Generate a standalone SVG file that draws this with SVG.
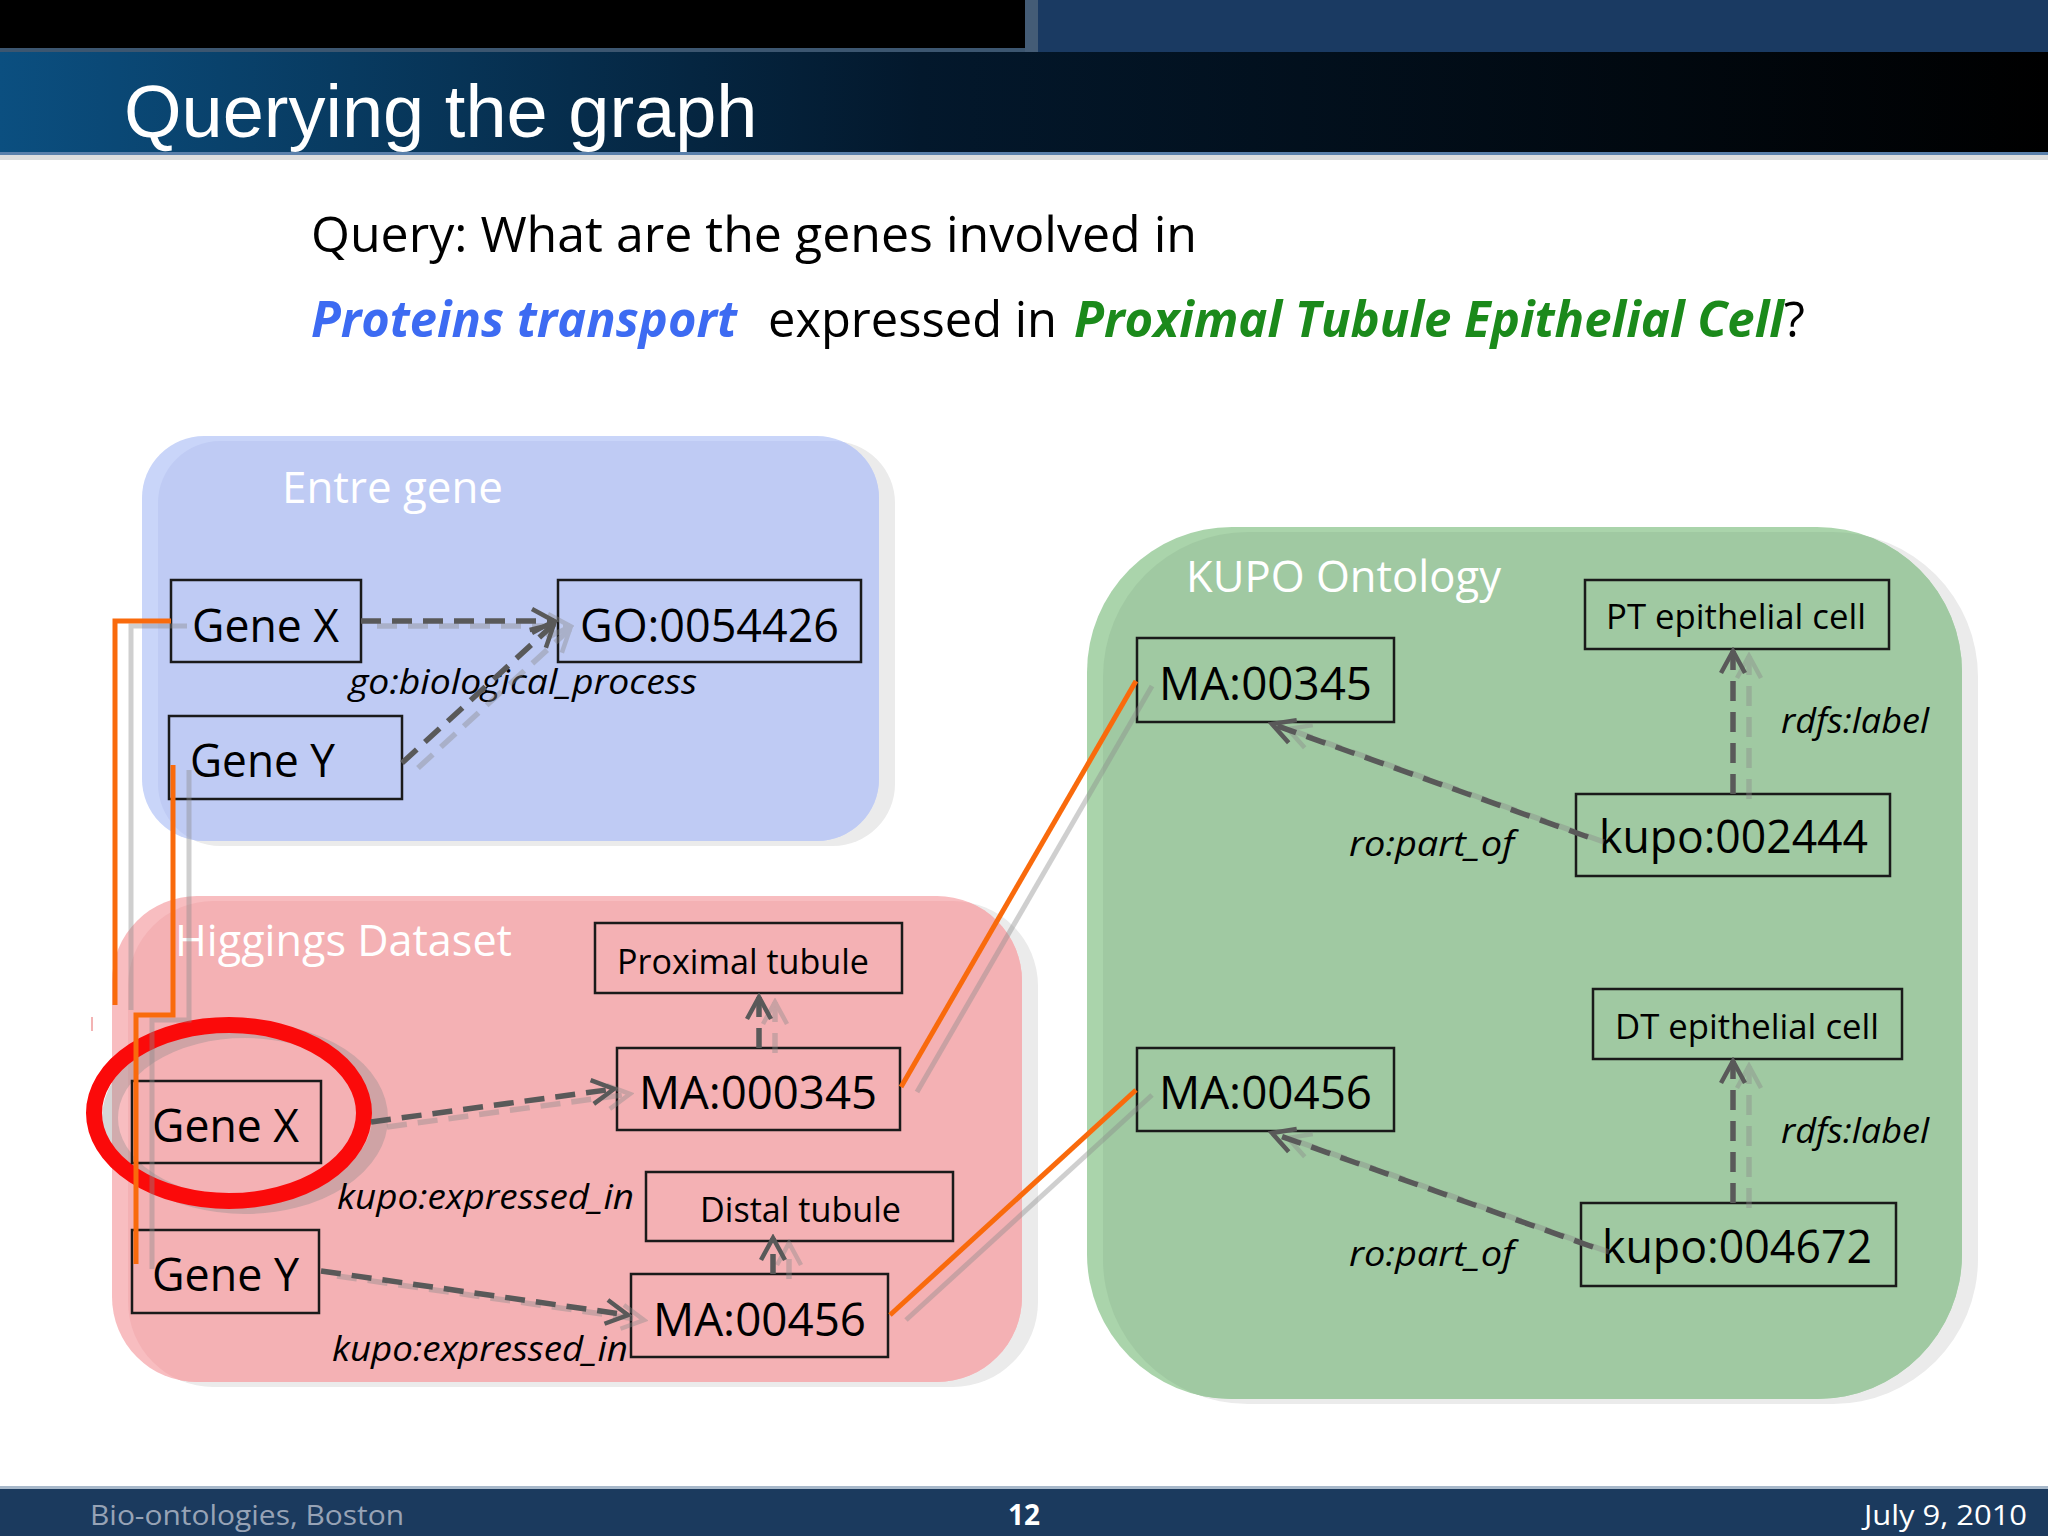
<svg xmlns="http://www.w3.org/2000/svg" width="2048" height="1536" viewBox="0 0 2048 1536">
<defs>
<linearGradient id="titleGrad" x1="0" y1="0" x2="1" y2="0">
<stop offset="0" stop-color="#0b4f80"/>
<stop offset="0.45" stop-color="#03182c"/>
<stop offset="1" stop-color="#000000"/>
</linearGradient>
<marker id="ah" viewBox="-28 -16 32 32" markerWidth="32" markerHeight="32" refX="0" refY="0" orient="auto" markerUnits="userSpaceOnUse">
<path d="M-22,-12 L0,0 L-22,12" fill="none" stroke="#595959" stroke-width="4.5"/>
</marker>
<marker id="ahg" viewBox="-28 -16 32 32" markerWidth="32" markerHeight="32" refX="0" refY="0" orient="auto" markerUnits="userSpaceOnUse">
<path d="M-22,-12 L0,0 L-22,12" fill="none" stroke="#8a8a8a" stroke-width="4.5"/>
</marker>
<clipPath id="clipBlue"><rect x="142" y="436" width="737" height="405" rx="62"/></clipPath>
<clipPath id="clipPink"><rect x="112" y="896" width="910" height="486" rx="85"/></clipPath>
<clipPath id="clipGreen"><rect x="1087" y="527" width="875" height="872" rx="145"/></clipPath>
<style>
.node{fill:none;stroke:#1a1a1a;stroke-width:2.5}
.big{font-family:"Open Sans","Noto Sans",sans-serif;font-size:46px;fill:#000}
.small{font-family:"Open Sans","Noto Sans",sans-serif;font-size:34px;fill:#000}
.lab{font-family:"Open Sans","Noto Sans",sans-serif;font-size:34px;font-style:italic;fill:#000}
.ctitle{font-family:"Open Sans","Noto Sans",sans-serif;font-size:44px;fill:#ffffff}
.dash{fill:none;stroke:#595959;stroke-width:5.5;stroke-dasharray:20 11;marker-end:url(#ah)}
.dashg{fill:none;stroke:#8a8a8a;stroke-width:5.5;stroke-dasharray:20 11;marker-end:url(#ahg)}
.orange{fill:none;stroke:#f96a0c;stroke-width:5}
.og{fill:none;stroke:#8a8a8a;stroke-width:5}
.q{font-family:"Open Sans","Noto Sans",sans-serif;font-size:50px}
.foot{font-family:"Open Sans","Noto Sans",sans-serif;font-size:28px}
</style>
</defs>

<rect x="0" y="0" width="2048" height="1536" fill="#ffffff"/>

<!-- header -->
<g id="header">
<rect x="0" y="0" width="2048" height="52" fill="#1a3a62"/>
<rect x="0" y="0" width="1025" height="48" fill="#000000"/>
<rect x="0" y="48" width="1025" height="4" fill="#3c5670"/>
<rect x="1025" y="0" width="13" height="52" fill="#445c76"/>
<rect x="0" y="52" width="2048" height="100" fill="url(#titleGrad)"/>
<rect x="0" y="152" width="2048" height="3" fill="#5a80ab"/>
<rect x="0" y="155" width="2048" height="5" fill="#dedede"/>
<text x="124" y="137" font-family="'Liberation Sans', Arial, sans-serif" font-size="74" fill="#ffffff">Querying the graph</text>
</g>

<!-- query -->
<g id="query">
<text class="q" x="311" y="252" fill="#000" textLength="886" lengthAdjust="spacingAndGlyphs">Query: What are the genes involved in</text>
<text class="q" x="311" y="337" fill="#3d6bf2" font-weight="bold" font-style="italic" textLength="426" lengthAdjust="spacingAndGlyphs">Proteins transport</text>
<text class="q" x="768" y="337" fill="#000" textLength="289" lengthAdjust="spacingAndGlyphs">expressed in</text>
<text class="q" x="1074" y="337" fill="#1b8a1b" font-weight="bold" font-style="italic" textLength="731" lengthAdjust="spacingAndGlyphs">Proximal Tubule Epithelial Cell<tspan fill="#000" font-weight="normal" font-style="normal">?</tspan></text>
</g>

<!-- containers -->
<g id="entrez-gene">
<rect x="158" y="441" width="737" height="405" rx="62" fill="#ebebeb"/>
<rect x="142" y="436" width="737" height="405" rx="62" fill="#c9d5f9"/>
<rect x="158" y="441" width="737" height="405" rx="62" fill="#bfcbf4" clip-path="url(#clipBlue)"/>
<text class="ctitle" x="282" y="503" textLength="221" lengthAdjust="spacingAndGlyphs">Entre gene</text>
</g>
<g id="higgings-dataset">
<rect x="128" y="901" width="910" height="486" rx="85" fill="#ebebeb"/>
<rect x="112" y="896" width="910" height="486" rx="85" fill="#f8bdc0"/>
<rect x="128" y="901" width="910" height="486" rx="85" fill="#f4b1b4" clip-path="url(#clipPink)"/>
<text class="ctitle" x="175" y="956" textLength="337" lengthAdjust="spacingAndGlyphs">Higgings Dataset</text>
</g>
<g id="kupo-ontology">
<rect x="1103" y="532" width="875" height="872" rx="145" fill="#ebebeb"/>
<rect x="1087" y="527" width="875" height="872" rx="145" fill="#aad4ab"/>
<rect x="1103" y="532" width="875" height="872" rx="145" fill="#a0c9a2" clip-path="url(#clipGreen)"/>
<text class="ctitle" x="1186" y="592" textLength="315" lengthAdjust="spacingAndGlyphs">KUPO Ontology</text>
</g>

<!-- nodes: Entrez gene -->
<g id="eg-gene-x"><rect class="node" x="171" y="580" width="190" height="82"/><text class="big" x="192" y="642" textLength="147" lengthAdjust="spacingAndGlyphs">Gene X</text></g>
<g id="eg-go-0054426"><rect class="node" x="558" y="580" width="303" height="82"/><text class="big" x="580" y="642" textLength="259" lengthAdjust="spacingAndGlyphs">GO:0054426</text></g>
<g id="eg-gene-y"><rect class="node" x="169" y="716" width="233" height="83"/><text class="big" x="190" y="777" textLength="145" lengthAdjust="spacingAndGlyphs">Gene Y</text></g>
<text class="lab" x="349" y="694" textLength="348" lengthAdjust="spacingAndGlyphs">go:biological_process</text>

<!-- red highlight ellipse -->
<g id="highlight">
<ellipse cx="245" cy="1118" rx="135" ry="88" fill="none" stroke="#8a8a8a" stroke-width="16" opacity="0.35"/>
<ellipse cx="229" cy="1113" rx="135" ry="88" fill="none" stroke="#fb0a0a" stroke-width="16"/>
</g>

<!-- nodes: Higgings -->
<g id="hd-gene-x"><rect class="node" x="132" y="1081" width="189" height="82"/><text class="big" x="152" y="1142" textLength="147" lengthAdjust="spacingAndGlyphs">Gene X</text></g>
<g id="hd-gene-y"><rect class="node" x="132" y="1230" width="187" height="83"/><text class="big" x="152" y="1291" textLength="147" lengthAdjust="spacingAndGlyphs">Gene Y</text></g>
<g id="hd-proximal-tubule"><rect class="node" x="595" y="923" width="307" height="70"/><text class="small" x="617" y="974" textLength="252" lengthAdjust="spacingAndGlyphs">Proximal tubule</text></g>
<g id="hd-ma-000345"><rect class="node" x="617" y="1048" width="283" height="82"/><text class="big" x="639" y="1109" textLength="238" lengthAdjust="spacingAndGlyphs">MA:000345</text></g>
<g id="hd-distal-tubule"><rect class="node" x="646" y="1172" width="307" height="69"/><text class="small" x="700" y="1222" textLength="201" lengthAdjust="spacingAndGlyphs">Distal tubule</text></g>
<g id="hd-ma-00456"><rect class="node" x="631" y="1274" width="257" height="83"/><text class="big" x="653" y="1336" textLength="213" lengthAdjust="spacingAndGlyphs">MA:00456</text></g>
<text class="lab" x="337" y="1209" textLength="297" lengthAdjust="spacingAndGlyphs">kupo:expressed_in</text>
<text class="lab" x="332" y="1361" textLength="296" lengthAdjust="spacingAndGlyphs">kupo:expressed_in</text>

<!-- nodes: KUPO -->
<g id="ko-ma-00345"><rect class="node" x="1137" y="638" width="257" height="84"/><text class="big" x="1159" y="700" textLength="213" lengthAdjust="spacingAndGlyphs">MA:00345</text></g>
<g id="ko-pt-epithelial-cell"><rect class="node" x="1585" y="580" width="304" height="69"/><text class="small" x="1606" y="629" textLength="260" lengthAdjust="spacingAndGlyphs">PT epithelial cell</text></g>
<g id="ko-kupo-002444"><rect class="node" x="1576" y="794" width="314" height="82"/><text class="big" x="1599" y="853" textLength="269" lengthAdjust="spacingAndGlyphs">kupo:002444</text></g>
<g id="ko-dt-epithelial-cell"><rect class="node" x="1593" y="989" width="309" height="70"/><text class="small" x="1615" y="1039" textLength="264" lengthAdjust="spacingAndGlyphs">DT epithelial cell</text></g>
<g id="ko-ma-00456"><rect class="node" x="1137" y="1048" width="257" height="83"/><text class="big" x="1159" y="1109" textLength="213" lengthAdjust="spacingAndGlyphs">MA:00456</text></g>
<g id="ko-kupo-004672"><rect class="node" x="1581" y="1203" width="315" height="83"/><text class="big" x="1602" y="1263" textLength="270" lengthAdjust="spacingAndGlyphs">kupo:004672</text></g>
<text class="lab" x="1781" y="733" textLength="148" lengthAdjust="spacingAndGlyphs">rdfs:label</text>
<text class="lab" x="1349" y="856" textLength="165" lengthAdjust="spacingAndGlyphs">ro:part_of</text>
<text class="lab" x="1781" y="1143" textLength="148" lengthAdjust="spacingAndGlyphs">rdfs:label</text>
<text class="lab" x="1349" y="1266" textLength="165" lengthAdjust="spacingAndGlyphs">ro:part_of</text>

<!-- connectors -->
<g id="connectors">
<g id="ghosts" transform="translate(16,5)" opacity="0.4">
<path class="dashg" d="M361,621 L554,621"/>
<path class="dashg" d="M402,763 L554,624"/>
<path class="dashg" d="M371,1122 L614,1089"/>
<path class="dashg" d="M321,1271 L628,1315"/>
<path class="dashg" d="M759,1048 L759,997"/>
<path class="dashg" d="M773,1274 L773,1238"/>
<path class="dashg" d="M1733,794 L1733,651"/>
<path class="dashg" d="M1588,837 L1272,724"/>
<path class="dashg" d="M1733,1203 L1733,1061"/>
<path class="dashg" d="M1593,1247 L1272,1133"/>
<path class="og" d="M171,621 L115,621 L115,1005"/>
<path class="og" d="M173,765 L173,1015 L136,1015 L136,1264"/>
<path class="og" d="M901,1087 L1136,681"/>
<path class="og" d="M890,1315 L1136,1090"/>
</g>
<path class="dash" d="M361,621 L554,621"/>
<path class="dash" d="M402,763 L554,624"/>
<path class="dash" d="M371,1122 L614,1089"/>
<path class="dash" d="M321,1271 L628,1315"/>
<path class="dash" d="M759,1048 L759,997"/>
<path class="dash" d="M773,1274 L773,1238"/>
<path class="dash" d="M1733,794 L1733,651"/>
<path class="dash" d="M1588,837 L1272,724"/>
<path class="dash" d="M1733,1203 L1733,1061"/>
<path class="dash" d="M1593,1247 L1272,1133"/>
<path class="orange" d="M171,621 L115,621 L115,1005"/>
<path class="orange" d="M173,765 L173,1015 L136,1015 L136,1264"/>
<path class="orange" d="M901,1087 L1136,681"/>
<path class="orange" d="M890,1315 L1136,1090"/>
<line x1="92" y1="1017" x2="92" y2="1031" stroke="#f3b3b3" stroke-width="2"/>
</g>

<!-- footer -->
<g id="footer">
<rect x="0" y="1486" width="2048" height="3" fill="#a7b8ca"/>
<rect x="0" y="1489" width="2048" height="47" fill="#1b3a5e"/>
<text class="foot" x="90" y="1525" fill="#97a3b6" textLength="314" lengthAdjust="spacingAndGlyphs">Bio-ontologies, Boston</text>
<text class="foot" x="1024" y="1525" fill="#ffffff" font-weight="bold" text-anchor="middle">12</text>
<text class="foot" x="1864" y="1525" fill="#ffffff" textLength="163" lengthAdjust="spacingAndGlyphs">July 9, 2010</text>
</g>
</svg>
